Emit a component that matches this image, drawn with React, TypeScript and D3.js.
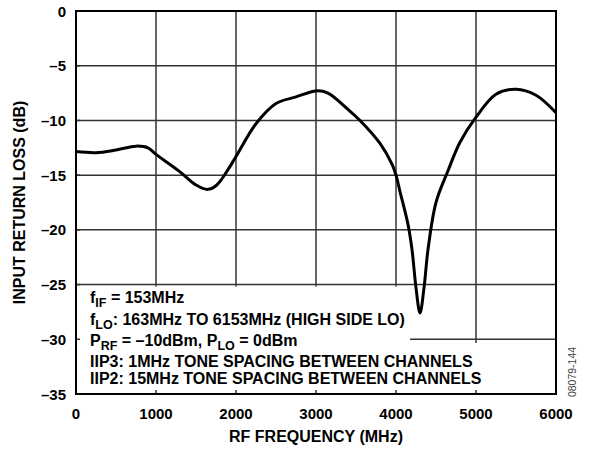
import React from "react";
import * as d3 from "d3";

const freqMHz = [0, 250, 500, 750, 900, 1000, 1300, 1500, 1650, 1760, 1900, 2000, 2250, 2500, 2750, 3000, 3150, 3400, 3550, 3800, 3950, 4000, 4050, 4150, 4200, 4250, 4300, 4350, 4400, 4500, 4650, 4800, 5000, 5250, 5500, 5750, 6000];
const returnLossDb = [-12.85, -12.95, -12.7, -12.35, -12.5, -13.1, -14.7, -15.9, -16.3, -15.9, -14.5, -13.3, -10.3, -8.45, -7.85, -7.3, -7.5, -9.0, -10.0, -12.1, -14.0, -15.0, -16.5, -19.5, -21.8, -25.3, -27.6, -25.3, -21.8, -17.5, -14.6, -12.0, -9.7, -7.6, -7.15, -7.7, -9.3];

const xTicks = [0, 1000, 2000, 3000, 4000, 5000, 6000];
const yTicks = [0, -5, -10, -15, -20, -25, -30, -35];

const W = 591, H = 450;
const L = 76, R = 556, T = 11, B = 394;
const FONT = "'Liberation Sans', Arial, Helvetica, sans-serif";

export default function App() {
  const x = d3.scaleLinear().domain([0, 6000]).range([L, R]);
  const y = d3.scaleLinear().domain([-35, 0]).range([B, T]);
  const pts = freqMHz.map((f, i) => [f, returnLossDb[i]] as [number, number]);
  const line = d3.line<[number, number]>().x(d => x(d[0])).y(d => y(d[1])).curve(d3.curveCatmullRom.alpha(0.5));

  const innerX = xTicks.slice(1, -1);
  const innerY = yTicks.slice(1, -1);
  const grid = "#333";
  const fs = 16;
  const sub = 12.5;
  const textX = 90;
  const lines = [303, 325, 346, 367, 384];
  const tickFs = 15;
  const titleFs = 16;

  return (
    <svg width={W} height={H} style={{ position: "absolute", left: 0, top: 0, background: "#fff" }} fontFamily={FONT}>
      <rect x={0} y={0} width={W} height={H} fill="#fff" />
      {innerX.map(v => (
        <line key={"gx" + v} x1={x(v)} x2={x(v)} y1={T} y2={B} stroke={grid} strokeWidth={1.5} />
      ))}
      {innerY.map(v => (
        <line key={"gy" + v} x1={L} x2={R} y1={y(v)} y2={y(v)} stroke={grid} strokeWidth={1.5} />
      ))}
      <rect x={L + 1} y={y(-25) + 2} width={410 - L - 1} height={B - y(-25) - 3} fill="#fff" />
      <rect x={L + 1} y={343} width={488 - L - 1} height={B - 343 - 1} fill="#fff" />
      {innerX.map(v => (
        <line key={"tx" + v} x1={x(v)} x2={x(v)} y1={B} y2={B - 4} stroke={grid} strokeWidth={1.5} />
      ))}
      {innerY.map(v => (
        <line key={"ty" + v} x1={L} x2={L + 4} y1={y(v)} y2={y(v)} stroke={grid} strokeWidth={1.5} />
      ))}
      <path d={line(pts) || ""} fill="none" stroke="#000" strokeWidth={3} strokeLinejoin="round" />
      <rect x={L} y={T} width={R - L} height={B - T} fill="none" stroke="#000" strokeWidth={2} />

      {xTicks.map(v => (
        <text key={"xl" + v} x={x(v)} y={418.5} textAnchor="middle" fontSize={tickFs} fontWeight="bold">{v}</text>
      ))}
      {yTicks.map(v => (
        <text key={"yl" + v} x={66} y={y(v) + 5.5} textAnchor="end" fontSize={tickFs} fontWeight="bold">{v === 0 ? "0" : "–" + Math.abs(v)}</text>
      ))}
      <text x={(L + R) / 2} y={442} textAnchor="middle" fontSize={titleFs} fontWeight="bold">RF FREQUENCY (MHz)</text>
      <text transform={`translate(25,${(T + B) / 2}) rotate(-90)`} textAnchor="middle" fontSize={titleFs} fontWeight="bold">INPUT RETURN LOSS (dB)</text>
      <text transform={`translate(576,372) rotate(-90)`} textAnchor="middle" fontSize={10.5} fill="#444">08079-144</text>

      <g fontSize={fs} fontWeight="bold">
        <text x={textX} y={lines[0]}>f<tspan fontSize={sub} dy={4}>IF</tspan><tspan dy={-4}> = 153MHz</tspan></text>
        <text x={textX} y={lines[1]}>f<tspan fontSize={sub} dy={4}>LO</tspan><tspan dy={-4}>: 163MHz TO 6153MHz (HIGH SIDE LO)</tspan></text>
        <text x={textX} y={lines[2]}>P<tspan fontSize={sub} dy={4}>RF</tspan><tspan dy={-4}> = –10dBm, P</tspan><tspan fontSize={sub} dy={4}>LO</tspan><tspan dy={-4}> = 0dBm</tspan></text>
        <text x={textX} y={lines[3]}>IIP3: 1MHz TONE SPACING BETWEEN CHANNELS</text>
        <text x={textX} y={lines[4]}>IIP2: 15MHz TONE SPACING BETWEEN CHANNELS</text>
      </g>
    </svg>
  );
}
